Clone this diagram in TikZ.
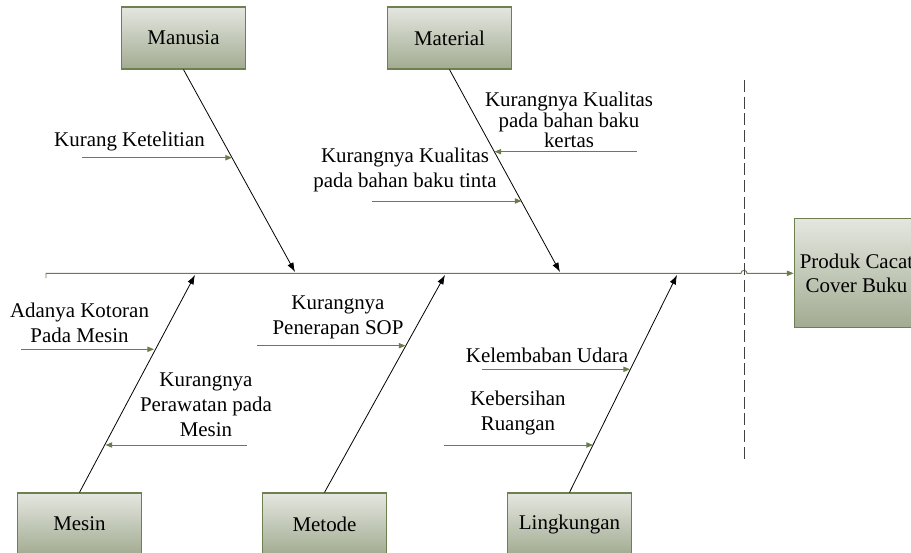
\documentclass[tikz,border=0pt]{standalone}
\usepackage{fontspec}
\setmainfont{Liberation Serif}
\usetikzlibrary{arrows.meta}
\definecolor{boxedge}{HTML}{6F8050}
\definecolor{boxtop}{HTML}{E4E7E0}
\definecolor{boxbottom}{HTML}{A2AB91}
\definecolor{twigline}{HTML}{6B7B4C}
\tikzset{
  catbox/.style={draw=boxedge, line width=0.9pt, top color=boxtop, bottom color=boxbottom,
                 minimum width=93.5pt, minimum height=46.5pt, inner sep=0pt,
                 font=\fontsize{15.7}{18}\selectfont},
  cause/.style={align=center, inner sep=0pt, font=\fontsize{15.7}{18.8}\selectfont},
  bone/.style={-{Latex[length=7pt,width=5pt]}, line width=0.6pt, black},
  twig/.style={-{Triangle[length=5pt,width=4pt]}, line width=0.7pt, twigline},
}

\begin{document}
\begin{tikzpicture}[x=0.75pt, y=-0.75pt]
    \useasboundingbox (0,0) rectangle (911,553);
    % kotak kategori
    \node[catbox] (man) at (183.5, 38) {Manusia};
    \node[catbox] (mat) at (449.5, 38) {Material};
    \node[catbox] (mes) at (79.5, 524) {Mesin};
    \node[catbox] (met) at (324.5, 524) {Metode};
    \node[catbox] (lin) at (569.5, 524) {Lingkungan};
    \node[catbox, minimum height=82pt, align=center] (prod) at (856.5, 273) {Produk Cacat\\Cover Buku};
    % tulang utama
    \coordinate (s0) at (46, 278);
    \coordinate (s1) at (46, 273.3);
    \coordinate (s2) at (741, 273.3);
    \draw[twig] (s0) -- (s1) -- (s2) arc[start angle=180, end angle=360, radius=3] -- (prod.west |- s1);
    \coordinate (d1) at (744, 80);
    \coordinate (d2) at (744, 460);
    \draw[dash pattern=on 9pt off 3.5pt, line width=0.7pt, black!75] (d1) -- (d2);
    % tulang kategori
    \coordinate (b1) at (295, 272);
    \coordinate (b2) at (560, 272);
    \coordinate (b3) at (195, 275);
    \coordinate (b4) at (445, 275);
    \coordinate (b5) at (677, 275);
    \draw[bone] (man.south) -- (b1);
    \draw[bone] (mat.south) -- (b2);
    \draw[bone] (mes.north) -- (b3);
    \draw[bone] (met.north) -- (b4);
    \draw[bone] (lin.north) -- (b5);
    % penyebab
    \node[cause] (k1) at (129.5, 141) {Kurang Ketelitian};
    \coordinate (k1a) at (82, 157.7);  \coordinate (k1b) at (232, 157.7);
    \draw[twig] (k1a) -- (k1b);
    \node[cause] (k2) at (405, 170) {Kurangnya Kualitas\\pada bahan baku tinta};
    \coordinate (k2a) at (372, 201);  \coordinate (k2b) at (521.5, 201);
    \draw[twig] (k2a) -- (k2b);
    \node[cause, font=\fontsize{15.7}{15.5}\selectfont] (k3) at (569, 120) {Kurangnya Kualitas\\pada bahan baku\\kertas};
    \coordinate (k3a) at (637, 151.7);  \coordinate (k3b) at (494.5, 151.7);
    \draw[twig] (k3a) -- (k3b);
    \node[cause] (k4) at (79.5, 322.5) {Adanya Kotoran\\Pada Mesin};
    \coordinate (k4a) at (21, 349.3);  \coordinate (k4b) at (154, 349.3);
    \draw[twig] (k4a) -- (k4b);
    \node[cause] (k5) at (206, 405) {Kurangnya\\Perawatan pada\\Mesin};
    \coordinate (k5a) at (247, 445);  \coordinate (k5b) at (105.5, 445);
    \draw[twig] (k5a) -- (k5b);
    \node[cause] (k6) at (338, 317.5) {Kurangnya\\Penerapan SOP};
    \coordinate (k6a) at (257, 345.7);  \coordinate (k6b) at (405.5, 345.7);
    \draw[twig] (k6a) -- (k6b);
    \node[cause] (k7) at (547, 355) {Kelembaban Udara};
    \coordinate (k7a) at (482, 369.3);  \coordinate (k7b) at (630, 369.3);
    \draw[twig] (k7a) -- (k7b);
    \node[cause] (k8) at (518, 413) {Kebersihan\\Ruangan};
    \coordinate (k8a) at (444, 445);  \coordinate (k8b) at (593, 445);
    \draw[twig] (k8a) -- (k8b);
\end{tikzpicture}
\end{document}
